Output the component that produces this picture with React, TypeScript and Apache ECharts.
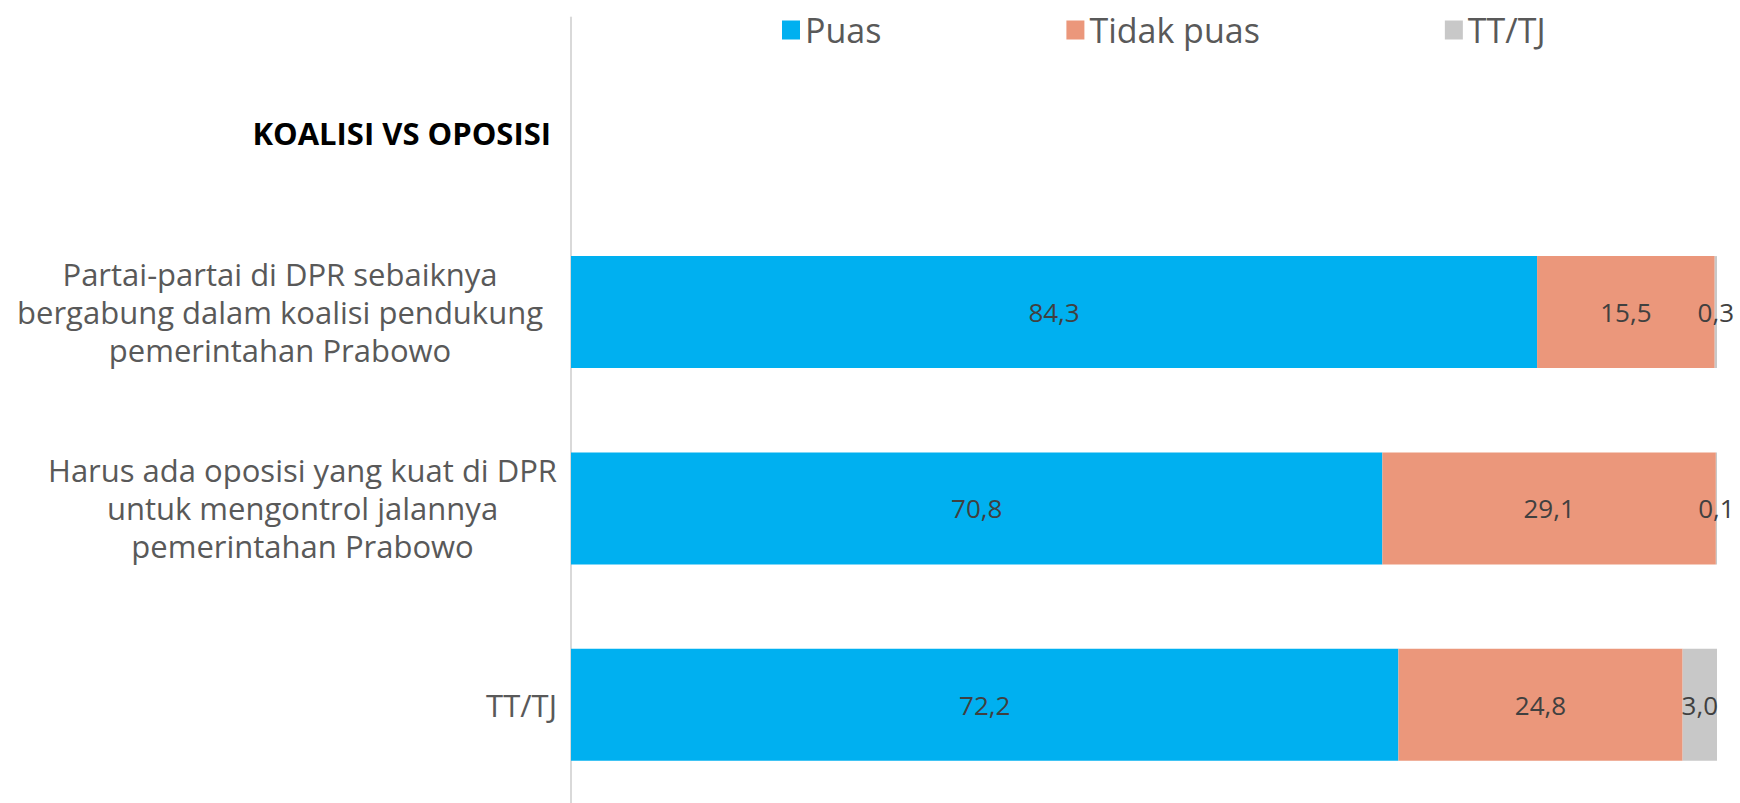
import React, { useEffect, useRef } from "react";
import * as echarts from "echarts";

const categories = [
  "KOALISI VS OPOSISI",
  "Partai-partai di DPR sebaiknya\nbergabung dalam koalisi pendukung\npemerintahan Prabowo",
  "Harus ada oposisi yang kuat di DPR\nuntuk mengontrol jalannya\npemerintahan Prabowo",
  "TT/TJ",
];
const seriesNames = ["Puas", "Tidak puas", "TT/TJ"];
const puas = [null, 84.3, 70.8, 72.2];
const tidakPuas = [null, 15.5, 29.1, 24.8];
const ttTj = [null, 0.3, 0.1, 3.0];
const colors = ["#00B0F0", "#EB977B", "#C8C8C8"];

const FONT = "Open Sans";
// extra right padding (px) per category label, a style detail
const labelShift = [6, 14, 0, 0];

export default function App() {
  const ref = useRef<HTMLDivElement>(null);
  useEffect(() => {
    if (!ref.current) return;
    const chart = echarts.init(ref.current, undefined, { renderer: "svg" });
    const values = [puas, tidakPuas, ttTj];
    const fmt = (v: number) => v.toFixed(1).replace(".", ",");
    const rich: Record<string, any> = {
      t: {
        fontSize: 31,
        fontWeight: "bold",
        color: "#000000",
        fontFamily: FONT,
        padding: [34, labelShift[0], 0, 0],
      },
    };
    labelShift.forEach((s, i) => {
      rich["c" + i] = {
        align: "center",
        fontSize: 31,
        lineHeight: 38,
        color: "#595959",
        fontFamily: FONT,
        padding: [0, s, 0, 0],
      };
    });
    chart.setOption({
      animation: false,
      textStyle: { fontFamily: FONT },
      legend: {
        data: seriesNames,
        left: 777,
        top: 8,
        itemGap: 185,
        itemWidth: 18,
        itemHeight: 19,
        icon: "rect",
        textStyle: { fontSize: 34, color: "#595959", fontFamily: FONT },
      },
      grid: { left: 571, width: 1146, top: 17.5, height: 789.5, containLabel: false },
      xAxis: { type: "value", min: 0, max: 100, show: false },
      yAxis: {
        type: "category",
        inverse: true,
        data: categories,
        axisLine: { show: true, lineStyle: { color: "#D9D9D9", width: 2 } },
        axisTick: { show: false },
        splitLine: { show: false },
        axisLabel: {
          margin: 14,
          align: "right",
          color: "#595959",
          fontSize: 31,
          lineHeight: 38,
          fontFamily: FONT,
          formatter: (value: string, index: number) => {
            if (index === 0) return `{t|${value}}`;
            return value
              .split("\n")
              .map((l) => `{c${index}|${l}}`)
              .join("\n");
          },
          rich,
        },
      },
      series: seriesNames.map((name, i) => ({
        name,
        type: "bar",
        stack: "total",
        barWidth: "57%",
        data: values[i],
        itemStyle: { color: colors[i] },
        label: {
          show: true,
          position: "inside",
          color: "#404040",
          fontSize: 26,
          fontFamily: FONT,
          formatter: (p: any) => (p.value == null ? "" : fmt(p.value)),
        },
      })),
    });
    return () => chart.dispose();
  }, []);
  return (
    <div
      ref={ref}
      style={{ position: "fixed", left: 0, top: 0, width: 1740, height: 803, background: "#fff" }}
    />
  );
}
